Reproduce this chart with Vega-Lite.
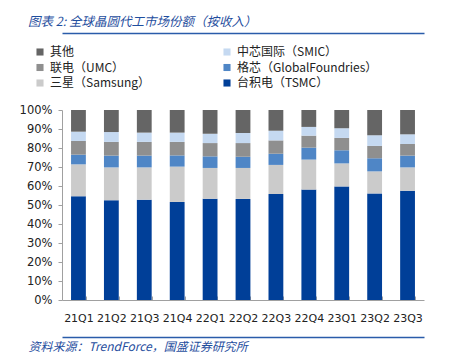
{
  "$schema": "https://vega.github.io/schema/vega-lite/v6.json",
  "width": 362,
  "height": 190,
  "autosize": {"type": "none"},
  "padding": {"left": 62, "top": 110, "right": 27, "bottom": 54},
  "background": "white",
  "title": {
    "text": "图表 2:  全球晶圆代工市场份额（按收入）",
    "anchor": "start",
    "frame": "group",
    "dx": -34,
    "offset": -1,
    "font": "Noto Sans CJK SC",
    "fontStyle": "italic",
    "fontWeight": "normal",
    "fontSize": 12.5,
    "color": "#1f4e9e",
    "baseline": "middle"
  },
  "data": {
    "values": [
      {"q":"21Q1","c":"台积电（TSMC）","v":54.6},{"q":"21Q1","c":"三星（Samsung）","v":16.8},{"q":"21Q1","c":"格芯（GlobalFoundries）","v":5.1},{"q":"21Q1","c":"联电（UMC）","v":7.2},{"q":"21Q1","c":"中芯国际（SMIC）","v":4.9},{"q":"21Q1","c":"其他","v":11.4},
      {"q":"21Q2","c":"台积电（TSMC）","v":52.5},{"q":"21Q2","c":"三星（Samsung）","v":17.3},{"q":"21Q2","c":"格芯（GlobalFoundries）","v":6.2},{"q":"21Q2","c":"联电（UMC）","v":7.2},{"q":"21Q2","c":"中芯国际（SMIC）","v":5.2},{"q":"21Q2","c":"其他","v":11.6},
      {"q":"21Q3","c":"台积电（TSMC）","v":52.8},{"q":"21Q3","c":"三星（Samsung）","v":17.0},{"q":"21Q3","c":"格芯（GlobalFoundries）","v":6.2},{"q":"21Q3","c":"联电（UMC）","v":7.2},{"q":"21Q3","c":"中芯国际（SMIC）","v":4.9},{"q":"21Q3","c":"其他","v":11.9},
      {"q":"21Q4","c":"台积电（TSMC）","v":51.6},{"q":"21Q4","c":"三星（Samsung）","v":18.6},{"q":"21Q4","c":"格芯（GlobalFoundries）","v":5.9},{"q":"21Q4","c":"联电（UMC）","v":7.1},{"q":"21Q4","c":"中芯国际（SMIC）","v":4.9},{"q":"21Q4","c":"其他","v":11.9},
      {"q":"22Q1","c":"台积电（TSMC）","v":53.3},{"q":"22Q1","c":"三星（Samsung）","v":16.2},{"q":"22Q1","c":"格芯（GlobalFoundries）","v":6.1},{"q":"22Q1","c":"联电（UMC）","v":7.0},{"q":"22Q1","c":"中芯国际（SMIC）","v":4.9},{"q":"22Q1","c":"其他","v":12.5},
      {"q":"22Q2","c":"台积电（TSMC）","v":53.2},{"q":"22Q2","c":"三星（Samsung）","v":16.3},{"q":"22Q2","c":"格芯（GlobalFoundries）","v":5.9},{"q":"22Q2","c":"联电（UMC）","v":7.2},{"q":"22Q2","c":"中芯国际（SMIC）","v":5.3},{"q":"22Q2","c":"其他","v":12.1},
      {"q":"22Q3","c":"台积电（TSMC）","v":55.8},{"q":"22Q3","c":"三星（Samsung）","v":15.3},{"q":"22Q3","c":"格芯（GlobalFoundries）","v":5.9},{"q":"22Q3","c":"联电（UMC）","v":7.0},{"q":"22Q3","c":"中芯国际（SMIC）","v":5.1},{"q":"22Q3","c":"其他","v":10.9},
      {"q":"22Q4","c":"台积电（TSMC）","v":58.1},{"q":"22Q4","c":"三星（Samsung）","v":15.8},{"q":"22Q4","c":"格芯（GlobalFoundries）","v":6.3},{"q":"22Q4","c":"联电（UMC）","v":6.3},{"q":"22Q4","c":"中芯国际（SMIC）","v":4.6},{"q":"22Q4","c":"其他","v":8.9},
      {"q":"23Q1","c":"台积电（TSMC）","v":59.8},{"q":"23Q1","c":"三星（Samsung）","v":12.1},{"q":"23Q1","c":"格芯（GlobalFoundries）","v":6.9},{"q":"23Q1","c":"联电（UMC）","v":6.5},{"q":"23Q1","c":"中芯国际（SMIC）","v":5.1},{"q":"23Q1","c":"其他","v":9.6},
      {"q":"23Q2","c":"台积电（TSMC）","v":56.1},{"q":"23Q2","c":"三星（Samsung）","v":11.6},{"q":"23Q2","c":"格芯（GlobalFoundries）","v":6.9},{"q":"23Q2","c":"联电（UMC）","v":6.5},{"q":"23Q2","c":"中芯国际（SMIC）","v":5.6},{"q":"23Q2","c":"其他","v":13.3},
      {"q":"23Q3","c":"台积电（TSMC）","v":57.5},{"q":"23Q3","c":"三星（Samsung）","v":12.3},{"q":"23Q3","c":"格芯（GlobalFoundries）","v":6.2},{"q":"23Q3","c":"联电（UMC）","v":6.1},{"q":"23Q3","c":"中芯国际（SMIC）","v":5.1},{"q":"23Q3","c":"其他","v":12.8}
    ]
  },
  "transform": [
    {"calculate": "indexof(['台积电（TSMC）','三星（Samsung）','格芯（GlobalFoundries）','联电（UMC）','中芯国际（SMIC）','其他'], datum.c)", "as": "rank"}
  ],
  "layer": [
    {
      "mark": {"type": "bar"},
      "encoding": {
        "x": {
          "field": "q", "type": "nominal", "sort": null,
          "scale": {"paddingInner": 0.55, "paddingOuter": 0.275},
          "axis": {
            "orient": "bottom",
            "title": "资料来源：TrendForce，国盛证券研究所",
            "titleFont": "Noto Sans CJK SC",
            "titleFontStyle": "italic",
            "titleFontWeight": "normal",
            "titleFontSize": 12,
            "titleColor": "#1f4e9e",
            "titleAnchor": "start",
            "titleAlign": "left",
            "titleX": -34,
            "titleY": 46,
            "titleBaseline": "middle",
            "labelAngle": 0,
            "labelFont": "DejaVu Sans",
            "labelFontSize": 11,
            "labelColor": "#222222",
            "labelPadding": 16,
            "tickBand": "extent",
            "tickSize": -4,
            "tickColor": "#a0a0a0",
            "domainColor": "#a0a0a0"
          }
        },
        "y": {
          "field": "v", "type": "quantitative", "stack": "zero",
          "scale": {"domain": [0, 100], "nice": false},
          "axis": {
            "title": null,
            "values": [0,10,20,30,40,50,60,70,80,90,100],
            "labelExpr": "datum.value + '%'",
            "labelFont": "DejaVu Sans",
            "labelFontSize": 11.5,
            "labelColor": "#222222",
            "labelPadding": 6,
            "tickSize": 4,
            "tickColor": "#a0a0a0",
            "domainColor": "#a0a0a0",
            "grid": false
          }
        },
        "color": {
          "field": "c", "type": "nominal",
          "scale": {
            "domain": ["其他","联电（UMC）","三星（Samsung）","中芯国际（SMIC）","格芯（GlobalFoundries）","台积电（TSMC）"],
            "range": ["#656565","#8f8f8f","#cbcbcb","#c5d9f1","#4f86c6","#003f98"]
          },
          "legend": {
            "title": null,
            "orient": "none",
            "legendX": -28,
            "legendY": -64,
            "columns": 2,
            "columnPadding": 70,
            "rowPadding": 3.5,
            "symbolType": "square",
            "symbolSize": 50,
            "symbolStrokeWidth": 0,
            "labelFont": "Noto Sans CJK SC",
            "labelFontSize": 12,
            "labelColor": "#222222",
            "labelLimit": 300
          }
        },
        "order": {"field": "rank", "type": "quantitative"}
      }
    },
    {
      "mark": {"type": "rule", "opacity": 0},
      "encoding": {
        "x": {
          "field": "q", "type": "nominal", "sort": null,
          "axis": {"orient": "top", "offset": 77, "labels": false, "ticks": false, "title": null, "domainColor": "#2a5caa", "domainWidth": 1.5}
        }
      }
    },
    {
      "mark": {"type": "rule", "opacity": 0},
      "encoding": {
        "x": {
          "field": "q", "type": "nominal", "sort": null,
          "axis": {"orient": "bottom", "offset": 37, "labels": false, "ticks": false, "title": null, "domainColor": "#2a5caa", "domainWidth": 1.5}
        }
      }
    }
  ],
  "resolve": {"axis": {"x": "independent"}},
  "config": {"view": {"stroke": null}}
}
